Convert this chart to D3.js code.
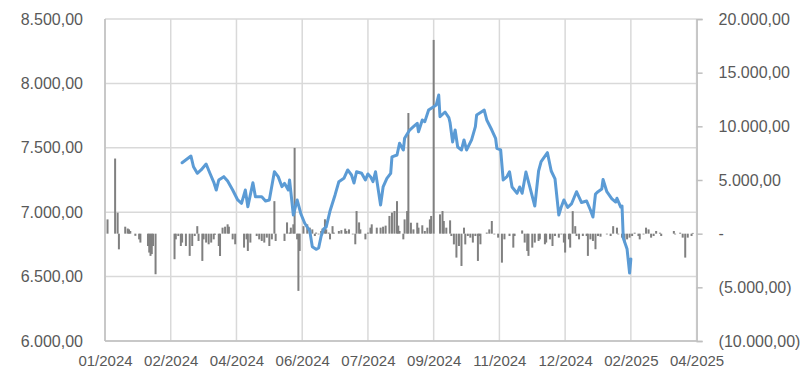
<!DOCTYPE html>
<html>
<head>
<meta charset="utf-8">
<script src="https://cdn.jsdelivr.net/npm/d3@7/dist/d3.min.js"></script>
<style>
  html, body { margin: 0; padding: 0; background: #ffffff; }
  svg { display: block; }
  text { font-family: "Liberation Sans", Arial, sans-serif; fill: #595959; }
</style>
</head>
<body>
<svg id="chart" width="805" height="373"></svg>
<script>
// Axis ticks
const xTickDates = ["2024-01-01","2024-02-22","2024-04-14","2024-06-05","2024-07-27",
                    "2024-09-17","2024-11-08","2024-12-30","2025-02-20","2025-04-13"];
const xTickLabels = ["01/2024","02/2024","04/2024","06/2024","07/2024",
                     "09/2024","11/2024","12/2024","02/2025","04/2025"];
const leftTicks = [6000, 6500, 7000, 7500, 8000, 8500];
const leftTickLabels = ["6.000,00","6.500,00","7.000,00","7.500,00","8.000,00","8.500,00"];
const rightTicks = [-10000, -5000, 0, 5000, 10000, 15000, 20000];
const rightTickLabels = ["(10.000,00)","(5.000,00)","-","5.000,00","10.000,00","15.000,00","20.000,00"];

// Index level (left axis)
const closeDates = [
  "2024-03-02","2024-03-09","2024-03-11","2024-03-14","2024-03-17","2024-03-21","2024-03-24","2024-03-27",
  "2024-03-29","2024-03-31","2024-04-04","2024-04-07","2024-04-11","2024-04-15","2024-04-18","2024-04-21",
  "2024-04-23","2024-04-27","2024-04-29","2024-05-04","2024-05-07","2024-05-10","2024-05-14","2024-05-17",
  "2024-05-20","2024-05-22","2024-05-25","2024-05-26","2024-05-29","2024-06-01","2024-06-04","2024-06-07",
  "2024-06-11","2024-06-13","2024-06-16","2024-06-18","2024-06-20","2024-06-22","2024-06-24","2024-06-27",
  "2024-07-01","2024-07-04","2024-07-08","2024-07-11","2024-07-14","2024-07-16","2024-07-18","2024-07-22",
  "2024-07-25","2024-07-27","2024-07-29","2024-07-31","2024-08-02","2024-08-03","2024-08-06","2024-08-08",
  "2024-08-11","2024-08-14","2024-08-15","2024-08-19","2024-08-21","2024-08-24","2024-08-25","2024-08-29",
  "2024-09-01","2024-09-04","2024-09-05","2024-09-08","2024-09-10","2024-09-13","2024-09-17","2024-09-19",
  "2024-09-21","2024-09-22","2024-09-26","2024-09-29","2024-09-30","2024-10-02","2024-10-04","2024-10-06",
  "2024-10-09","2024-10-11","2024-10-13","2024-10-17","2024-10-20","2024-10-21","2024-10-25","2024-10-27",
  "2024-10-29","2024-11-02","2024-11-05","2024-11-06","2024-11-09","2024-11-11","2024-11-14","2024-11-16",
  "2024-11-18","2024-11-22","2024-11-24","2024-11-26","2024-11-29","2024-12-02","2024-12-06","2024-12-09",
  "2024-12-11","2024-12-16","2024-12-19","2024-12-22","2024-12-25","2024-12-27","2024-12-29","2025-01-01",
  "2025-01-04","2025-01-08","2025-01-12","2025-01-16","2025-01-19","2025-01-21","2025-01-23","2025-01-25",
  "2025-01-28","2025-01-29","2025-02-01","2025-02-05","2025-02-08","2025-02-09","2025-02-12","2025-02-13",
  "2025-02-14","2025-02-17","2025-02-19","2025-02-20"
];
const closeValues = [
  7384,7436,7353,7302,7328,7374,7302,7234,
  7172,7250,7276,7242,7172,7095,7069,7172,
  7043,7229,7120,7120,7087,7095,7314,7276,
  7198,7224,7172,7250,6978,7095,6986,6914,
  6854,6732,6712,6722,6815,6870,6885,7009,
  7134,7237,7263,7328,7289,7227,7314,7302,
  7250,7297,7276,7237,7314,7250,7056,7196,
  7263,7302,7429,7444,7535,7483,7574,7638,
  7664,7690,7625,7716,7703,7793,7819,7832,
  7910,7741,7778,7735,7693,7545,7638,7506,
  7483,7561,7483,7561,7664,7755,7780,7793,
  7716,7638,7574,7496,7483,7250,7277,7314,
  7196,7147,7196,7147,7312,7198,7048,7320,
  7392,7462,7320,7258,6978,7043,7095,7037,
  7064,7159,7075,7087,7017,6963,7141,7159,
  7180,7254,7159,7103,7079,7108,7040,7048,
  6800,6714,6528,6637
];

// Net flow (right axis)
const flowDates = [
  "2024-01-03","2024-01-09","2024-01-11","2024-01-12","2024-01-17","2024-01-19","2024-01-20","2024-01-21",
  "2024-01-25","2024-01-28","2024-01-29","2024-02-04","2024-02-05","2024-02-06","2024-02-07","2024-02-08",
  "2024-02-10","2024-02-25","2024-02-26","2024-02-28","2024-03-01","2024-03-02","2024-03-05","2024-03-08",
  "2024-03-10","2024-03-12","2024-03-14","2024-03-15","2024-03-18","2024-03-19","2024-03-21","2024-03-23",
  "2024-03-25","2024-03-27","2024-03-28","2024-03-31","2024-04-01","2024-04-03","2024-04-05","2024-04-07",
  "2024-04-08","2024-04-11","2024-04-13","2024-04-20","2024-04-22","2024-04-23","2024-04-25","2024-04-30",
  "2024-05-02","2024-05-04","2024-05-06","2024-05-08","2024-05-10","2024-05-12","2024-05-14","2024-05-15",
  "2024-05-22","2024-05-24","2024-05-26","2024-05-27","2024-05-29","2024-05-30","2024-06-01","2024-06-02",
  "2024-06-03","2024-06-06","2024-06-09","2024-06-11","2024-06-13","2024-06-15","2024-06-16","2024-06-18",
  "2024-06-20","2024-06-21","2024-06-23","2024-06-24","2024-06-26","2024-06-27","2024-06-29","2024-06-30",
  "2024-07-04","2024-07-06","2024-07-09","2024-07-10","2024-07-12","2024-07-15","2024-07-17","2024-07-18",
  "2024-07-20","2024-07-21","2024-07-25","2024-07-27","2024-07-29","2024-07-30","2024-08-03","2024-08-06",
  "2024-08-08","2024-08-10","2024-08-13","2024-08-15","2024-08-17","2024-08-19","2024-08-20","2024-08-21",
  "2024-08-24","2024-08-25","2024-08-27","2024-08-28","2024-08-30","2024-09-01","2024-09-04","2024-09-05",
  "2024-09-08","2024-09-10","2024-09-12","2024-09-14","2024-09-15","2024-09-17","2024-09-22","2024-09-24",
  "2024-09-25","2024-09-27","2024-09-30","2024-10-01","2024-10-03","2024-10-05","2024-10-07","2024-10-09",
  "2024-10-11","2024-10-12","2024-10-14","2024-10-16","2024-10-18","2024-10-20","2024-10-22","2024-10-23",
  "2024-10-24","2024-10-29","2024-10-31","2024-11-02","2024-11-04","2024-11-07","2024-11-10","2024-11-12",
  "2024-11-16","2024-11-19","2024-11-20","2024-11-26","2024-11-28","2024-11-30","2024-12-01","2024-12-04",
  "2024-12-06","2024-12-09","2024-12-10","2024-12-14","2024-12-15","2024-12-18","2024-12-20","2024-12-22",
  "2024-12-25","2024-12-27","2024-12-29","2024-12-30","2025-01-02","2025-01-03","2025-01-05","2025-01-07",
  "2025-01-08","2025-01-10","2025-01-13","2025-01-16","2025-01-17","2025-01-19","2025-01-21","2025-01-23",
  "2025-01-25","2025-01-27","2025-02-01","2025-02-04","2025-02-06","2025-02-09","2025-02-10","2025-02-13",
  "2025-02-15","2025-02-17","2025-02-19","2025-02-21","2025-02-23","2025-02-26","2025-02-27","2025-03-02",
  "2025-03-04","2025-03-06","2025-03-08","2025-03-10","2025-03-12","2025-03-15","2025-03-16","2025-03-26",
  "2025-03-27","2025-03-31","2025-04-02","2025-04-04","2025-04-06","2025-04-09","2025-04-10"
];
const flowValues = [
  1330,7000,1950,-1460,650,480,400,250,
  -200,-530,-830,-1150,-1760,-2070,-1900,-1150,
  -3780,-2380,-530,-220,-1150,-830,-1150,-2070,
  -1150,-220,700,-680,-2540,-530,-830,-990,
  -830,-530,-100,-1150,-2080,560,650,870,
  650,-530,-990,-1300,-530,-1610,-830,-220,
  -530,-680,-830,-370,-1150,-530,3030,-680,
  -680,1050,100,560,870,7990,-530,-5330,
  -1610,700,870,560,400,-220,100,-70,
  250,470,1340,400,100,-530,700,100,
  250,330,470,250,400,-70,-990,2110,
  1050,400,-530,100,560,870,560,560,
  650,750,1650,1960,2110,3030,750,250,
  -530,1330,2110,11240,1020,400,1020,560,
  780,250,560,1330,1650,18050,1800,2110,
  1180,560,1240,-220,-1000,-2230,-1150,-3010,
  560,-1000,-220,-370,-830,-220,-2540,-220,
  -990,100,400,1180,-70,-370,-2700,-530,
  -220,-1300,-220,300,-830,-1610,-2070,-1300,
  -830,-680,-530,-990,-830,-530,-1150,-220,
  -370,-70,-830,-1760,-530,-1300,2100,700,
  -220,-530,-220,-220,-2070,-530,-680,-1450,
  -220,-280,-70,-220,700,560,-70,-370,
  -830,-530,-370,-220,90,-220,-530,-70,
  560,400,-370,-220,250,90,-220,250,
  -70,90,-370,-2230,-370,-220,70
];

const parse = d3.timeParse("%Y-%m-%d");
const closeData = closeDates.map((d, i) => ({ date: parse(d), value: closeValues[i] }));
const flowData = flowDates.map((d, i) => ({ date: parse(d), value: flowValues[i] }));
const tickDates = xTickDates.map(parse);

const svg = d3.select("#chart");
const margin = { left: 105, right: 805 - 696.6, top: 19, bottom: 373 - 341 };
const W = 805, H = 373;
const x0 = margin.left, x1 = W - margin.right, y0 = H - margin.bottom, y1 = margin.top;

const x = d3.scaleTime().domain([tickDates[0], tickDates[tickDates.length - 1]]).range([x0, x1]);
const yL = d3.scaleLinear().domain([6000, 8500]).range([y0, y1]);
const yR = d3.scaleLinear().domain([-10000, 20000]).range([y0, y1]);

const gridColor = "#d9d9d9";
const axisColor = "#bfbfbf";

// Horizontal gridlines (left axis)
svg.append("g")
  .selectAll("line").data(leftTicks).join("line")
  .attr("x1", x0).attr("x2", x1)
  .attr("y1", d => yL(d)).attr("y2", d => yL(d))
  .attr("stroke", gridColor).attr("stroke-width", 1.5);

// Vertical gridlines (date axis)
svg.append("g")
  .selectAll("line").data(tickDates).join("line")
  .attr("x1", d => x(d)).attr("x2", d => x(d))
  .attr("y1", y1).attr("y2", y0)
  .attr("stroke", gridColor).attr("stroke-width", 1.5);

// Net flow columns
const barW = 2;
svg.append("g")
  .selectAll("rect").data(flowData).join("rect")
  .attr("x", d => x(d.date) - barW / 2)
  .attr("width", barW)
  .attr("y", d => Math.min(yR(d.value), yR(0)))
  .attr("height", d => Math.abs(yR(d.value) - yR(0)))
  .attr("fill", "#808080");

// Index line
const line = d3.line().x(d => x(d.date)).y(d => yL(d.value));
svg.append("path")
  .datum(closeData)
  .attr("d", line)
  .attr("fill", "none")
  .attr("stroke", "#5b9bd5")
  .attr("stroke-width", 3)
  .attr("stroke-linejoin", "round")
  .attr("stroke-linecap", "round");

// Axis lines
svg.append("line").attr("x1", x0).attr("x2", x0).attr("y1", y1).attr("y2", y0)
  .attr("stroke", axisColor).attr("stroke-width", 1.5);
svg.append("line").attr("x1", x0).attr("x2", x1).attr("y1", y0).attr("y2", y0)
  .attr("stroke", axisColor).attr("stroke-width", 1.5);

// Right axis with outward ticks
const rightAxis = d3.axisRight(yR)
  .tickValues(rightTicks)
  .tickSize(6)
  .tickPadding(16)
  .tickFormat((d, i) => rightTickLabels[i]);
const gR = svg.append("g").attr("transform", `translate(${x1},0)`).call(rightAxis);
gR.select(".domain").attr("stroke", axisColor).attr("stroke-width", 1.5);
gR.selectAll(".tick line").attr("stroke", axisColor).attr("stroke-width", 1.5);
gR.selectAll(".tick text").attr("fill", "#595959").style("font-size", "16px")
  .attr("font-family", null);

// Left axis labels
const leftAxis = d3.axisLeft(yL)
  .tickValues(leftTicks)
  .tickSize(0)
  .tickPadding(22)
  .tickFormat((d, i) => leftTickLabels[i]);
const gL = svg.append("g").attr("transform", `translate(${x0},0)`).call(leftAxis);
gL.select(".domain").remove();
gL.selectAll(".tick text").attr("fill", "#595959").style("font-size", "16px")
  .attr("font-family", null);

// Bottom axis labels
const bottomAxis = d3.axisBottom(x)
  .tickValues(tickDates)
  .tickSize(0)
  .tickPadding(14)
  .tickFormat((d, i) => xTickLabels[i]);
const gB = svg.append("g").attr("transform", `translate(0,${y0})`).call(bottomAxis);
gB.select(".domain").remove();
gB.selectAll(".tick text").attr("fill", "#595959").style("font-size", "15px")
  .attr("font-family", null);
</script>
</body>
</html>
